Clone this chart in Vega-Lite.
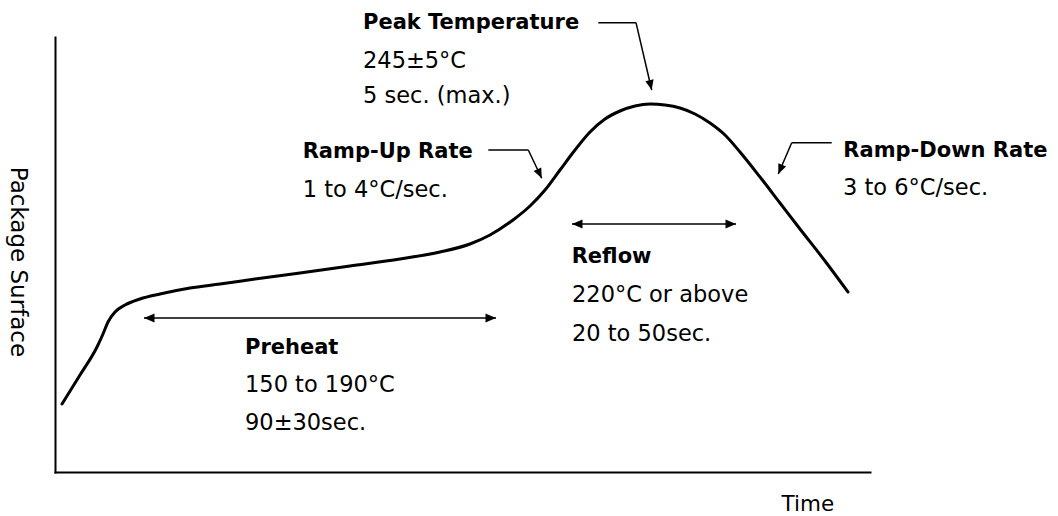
{
  "$schema": "https://vega.github.io/schema/vega-lite/v6.json",
  "width": 815,
  "height": 435,
  "autosize": {"type": "none"},
  "padding": {"left": 55, "top": 37, "right": 188, "bottom": 44},
  "background": "white",
  "config": {
    "view": {"stroke": null},
    "axis": {"domain": true, "domainColor": "black", "domainWidth": 2, "domainCap": "square",
      "ticks": false, "labels": false, "grid": false,
      "titleFont": "DejaVu Sans", "titleFontWeight": "normal", "titleColor": "black"},
    "axisX": {"titleFontSize": 21.5, "titleX": 726, "titleY": 38, "titleAlign": "left", "titleBaseline": "alphabetic", "titleAnchor": "start"},
    "axisY": {"titleFontSize": 23, "titleAngle": 90, "titleX": -45, "titleY": 224.5, "titleAlign": "center", "titleBaseline": "alphabetic"}
  },
  "datasets": {
    "profile": [
      {"t": 7, "temp": 68}, {"t": 25, "temp": 97}, {"t": 42, "temp": 125}, {"t": 48, "temp": 138},
      {"t": 53, "temp": 150}, {"t": 60, "temp": 160}, {"t": 70, "temp": 167}, {"t": 85, "temp": 173},
      {"t": 105, "temp": 178}, {"t": 135, "temp": 184}, {"t": 165, "temp": 188}, {"t": 200, "temp": 193},
      {"t": 245, "temp": 199}, {"t": 295, "temp": 206}, {"t": 345, "temp": 213}, {"t": 385, "temp": 220},
      {"t": 415, "temp": 228}, {"t": 435, "temp": 237}, {"t": 458, "temp": 252}, {"t": 475, "temp": 266},
      {"t": 490, "temp": 282}, {"t": 505, "temp": 302}, {"t": 520, "temp": 322}, {"t": 535, "temp": 340},
      {"t": 550, "temp": 353}, {"t": 565, "temp": 361}, {"t": 580, "temp": 366}, {"t": 595, "temp": 368},
      {"t": 610, "temp": 367}, {"t": 625, "temp": 364}, {"t": 640, "temp": 358}, {"t": 655, "temp": 349},
      {"t": 670, "temp": 337}, {"t": 685, "temp": 320}, {"t": 705, "temp": 295}, {"t": 725, "temp": 269},
      {"t": 745, "temp": 243}, {"t": 770, "temp": 211}, {"t": 793, "temp": 180}
    ],
    "spans": [
      {"zone": "Preheat", "start": 89, "end": 441, "level": 154},
      {"zone": "Reflow", "start": 517, "end": 681, "level": 248}
    ],
    "pointers": [
      {"label": "Peak", "x0": 543.3, "y0": 449.3, "x1": 581, "y1": 449.3, "tipx": 596.7, "tipy": 382},
      {"label": "RampUp", "x0": 433.3, "y0": 322, "x1": 473.3, "y1": 322, "tipx": 486.7, "tipy": 293.7},
      {"label": "RampDown", "x0": 776.7, "y0": 329.3, "x1": 736.7, "y1": 329.3, "tipx": 723.3, "tipy": 298}
    ],
    "labels": [
      {"kind": "title", "text": "Peak Temperature", "x": 308, "y": 443},
      {"kind": "title", "text": "Ramp-Up Rate", "x": 247.7, "y": 314},
      {"kind": "title", "text": "Ramp-Down Rate", "x": 788.3, "y": 315.3},
      {"kind": "title", "text": "Reflow", "x": 516.7, "y": 208.7},
      {"kind": "title", "text": "Preheat", "x": 190, "y": 118},
      {"kind": "detail", "text": "245±5°C", "x": 308, "y": 404},
      {"kind": "detail", "text": "5 sec. (max.)", "x": 308, "y": 369},
      {"kind": "detail", "text": "1 to 4°C/sec.", "x": 247.7, "y": 275},
      {"kind": "detail", "text": "3 to 6°C/sec.", "x": 788, "y": 277},
      {"kind": "detail", "text": "220°C or above", "x": 517, "y": 170.3},
      {"kind": "detail", "text": "20 to 50sec.", "x": 517, "y": 131.3},
      {"kind": "detail", "text": "150 to 190°C", "x": 190, "y": 80},
      {"kind": "detail", "text": "90±30sec.", "x": 190, "y": 42}
    ]
  },
  "layer": [
    {
      "data": {"name": "profile"},
      "mark": {"type": "line", "interpolate": "monotone", "color": "black", "strokeWidth": 3, "strokeCap": "round"},
      "encoding": {
        "x": {"field": "t", "type": "quantitative", "title": "Time", "scale": {"domain": [0, 815], "nice": false, "zero": false}},
        "y": {"field": "temp", "type": "quantitative", "title": "Package Surface", "scale": {"domain": [0, 435], "nice": false, "zero": false}}
      }
    },
    {
      "data": {"name": "spans"},
      "mark": {"type": "rule", "color": "black", "strokeWidth": 1.5},
      "encoding": {
        "x": {"field": "start", "type": "quantitative", "title": "Time", "scale": {"domain": [0, 815], "nice": false, "zero": false}},
        "x2": {"field": "end"},
        "y": {"field": "level", "type": "quantitative", "title": "Package Surface", "scale": {"domain": [0, 435], "nice": false, "zero": false}}
      }
    },
    {
      "data": {"name": "spans"},
      "mark": {"type": "point", "shape": "M0,0L1,-0.42L1,0.42Z", "filled": true, "color": "black", "opacity": 1, "size": 441, "strokeWidth": 0},
      "encoding": {
        "x": {"field": "start", "type": "quantitative", "title": "Time", "scale": {"domain": [0, 815], "nice": false, "zero": false}},
        "y": {"field": "level", "type": "quantitative", "title": "Package Surface", "scale": {"domain": [0, 435], "nice": false, "zero": false}}
      }
    },
    {
      "data": {"name": "spans"},
      "mark": {"type": "point", "shape": "M0,0L-1,-0.42L-1,0.42Z", "filled": true, "color": "black", "opacity": 1, "size": 441, "strokeWidth": 0},
      "encoding": {
        "x": {"field": "end", "type": "quantitative", "title": "Time", "scale": {"domain": [0, 815], "nice": false, "zero": false}},
        "y": {"field": "level", "type": "quantitative", "title": "Package Surface", "scale": {"domain": [0, 435], "nice": false, "zero": false}}
      }
    },
    {
      "data": {"name": "pointers"},
      "mark": {"type": "rule", "color": "black", "strokeWidth": 1.5},
      "encoding": {
        "x": {"field": "x0", "type": "quantitative", "title": "Time", "scale": {"domain": [0, 815], "nice": false, "zero": false}},
        "x2": {"field": "x1"},
        "y": {"field": "y0", "type": "quantitative", "title": "Package Surface", "scale": {"domain": [0, 435], "nice": false, "zero": false}},
        "y2": {"field": "y1"}
      }
    },
    {
      "data": {"name": "pointers"},
      "mark": {"type": "rule", "color": "black", "strokeWidth": 1.5},
      "encoding": {
        "x": {"field": "x1", "type": "quantitative", "title": "Time", "scale": {"domain": [0, 815], "nice": false, "zero": false}},
        "x2": {"field": "tipx"},
        "y": {"field": "y1", "type": "quantitative", "title": "Package Surface", "scale": {"domain": [0, 435], "nice": false, "zero": false}},
        "y2": {"field": "tipy"}
      }
    },
    {
      "data": {"name": "pointers"},
      "transform": [{"filter": "datum.label === 'Peak'"}],
      "mark": {"type": "point", "shape": "M0,0L-1,-0.42L-1,0.42Z", "angle": 77, "filled": true, "color": "black", "opacity": 1, "size": 400, "strokeWidth": 0},
      "encoding": {
        "x": {"field": "tipx", "type": "quantitative", "title": "Time", "scale": {"domain": [0, 815], "nice": false, "zero": false}},
        "y": {"field": "tipy", "type": "quantitative", "title": "Package Surface", "scale": {"domain": [0, 435], "nice": false, "zero": false}}
      }
    },
    {
      "data": {"name": "pointers"},
      "transform": [{"filter": "datum.label === 'RampUp'"}],
      "mark": {"type": "point", "shape": "M0,0L-1,-0.42L-1,0.42Z", "angle": 65, "filled": true, "color": "black", "opacity": 1, "size": 400, "strokeWidth": 0},
      "encoding": {
        "x": {"field": "tipx", "type": "quantitative", "title": "Time", "scale": {"domain": [0, 815], "nice": false, "zero": false}},
        "y": {"field": "tipy", "type": "quantitative", "title": "Package Surface", "scale": {"domain": [0, 435], "nice": false, "zero": false}}
      }
    },
    {
      "data": {"name": "pointers"},
      "transform": [{"filter": "datum.label === 'RampDown'"}],
      "mark": {"type": "point", "shape": "M0,0L-1,-0.42L-1,0.42Z", "angle": 113, "filled": true, "color": "black", "opacity": 1, "size": 400, "strokeWidth": 0},
      "encoding": {
        "x": {"field": "tipx", "type": "quantitative", "title": "Time", "scale": {"domain": [0, 815], "nice": false, "zero": false}},
        "y": {"field": "tipy", "type": "quantitative", "title": "Package Surface", "scale": {"domain": [0, 435], "nice": false, "zero": false}}
      }
    },
    {
      "data": {"name": "labels"},
      "transform": [{"filter": "datum.kind === 'title'"}],
      "mark": {"type": "text", "font": "DejaVu Sans", "fontSize": 21, "fontWeight": "bold", "color": "black", "align": "left", "baseline": "alphabetic"},
      "encoding": {
        "x": {"field": "x", "type": "quantitative", "title": "Time", "scale": {"domain": [0, 815], "nice": false, "zero": false}},
        "y": {"field": "y", "type": "quantitative", "title": "Package Surface", "scale": {"domain": [0, 435], "nice": false, "zero": false}},
        "text": {"field": "text"}
      }
    },
    {
      "data": {"name": "labels"},
      "transform": [{"filter": "datum.kind === 'detail'"}],
      "mark": {"type": "text", "font": "DejaVu Sans", "fontSize": 22.5, "fontWeight": "normal", "color": "black", "align": "left", "baseline": "alphabetic"},
      "encoding": {
        "x": {"field": "x", "type": "quantitative", "title": "Time", "scale": {"domain": [0, 815], "nice": false, "zero": false}},
        "y": {"field": "y", "type": "quantitative", "title": "Package Surface", "scale": {"domain": [0, 435], "nice": false, "zero": false}},
        "text": {"field": "text"}
      }
    }
  ]
}
